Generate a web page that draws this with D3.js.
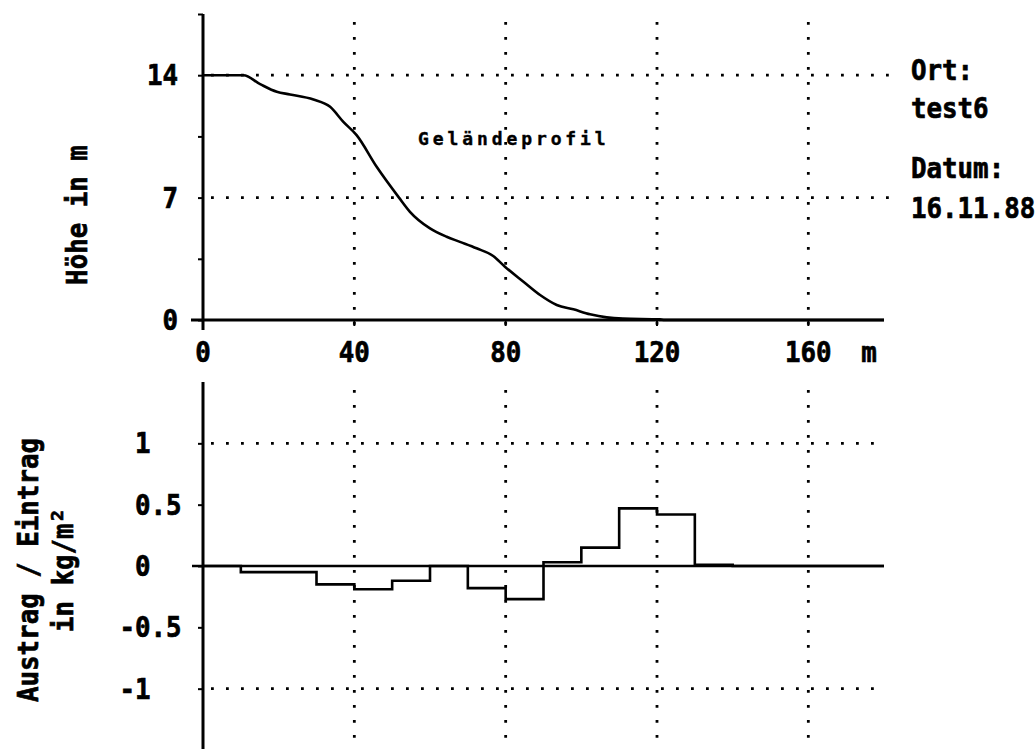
<!DOCTYPE html>
<html>
<head>
<meta charset="utf-8">
<script src="https://cdn.jsdelivr.net/npm/d3@7"></script>
<style>
  html, body { margin: 0; padding: 0; background: #fff; }
  svg { display: block; }
  .lbl { font-family: "DejaVu Sans Mono", "Liberation Mono", monospace; font-weight: bold; fill: #000; stroke: #000; stroke-width: 0.7; }
  .small { stroke-width: 0.4; }
</style>
</head>
<body>
<svg id="chart" width="1036" height="749"></svg>
<script>
// Terrain profile: distance (m) and height (m)
const profileX = [0, 7, 10.7, 15.1, 19.5, 23, 29.2, 33.6, 37.1, 40.6, 45.9, 51.8, 54.7, 60, 64.4, 67.9, 72.3, 76.7, 79.8, 84.7, 89.1, 93.5, 97.9, 102.3, 106.7, 111, 120.8, 122, 180];
const profileY = [14, 14, 14, 13.49, 13.05, 12.9, 12.61, 12.19, 11.33, 10.57, 8.76, 7.0, 6.19, 5.24, 4.76, 4.47, 4.1, 3.66, 3.05, 2.19, 1.43, 0.86, 0.61, 0.33, 0.15, 0.08, 0.04, 0, 0];

// Soil loss / deposition per 10 m segment (kg/m²)
const segStart = [0, 10, 20, 30, 40, 50, 60, 70, 80, 90, 100, 110, 120, 130, 140];
const segValue = [0, -0.05, -0.05, -0.15, -0.19, -0.12, 0, -0.18, -0.27, 0.03, 0.15, 0.47, 0.42, 0.01, 0];
const segEnd = 180;

// Axis ticks
const xTicks = [0, 40, 80, 120, 160];
const xGrid = [40, 80, 120, 160];
const hTicks = [0, 3.5, 7, 10.5, 14, 17.5];
const hLabels = [0, 7, 14];
const hGrid = [7, 14];
const aTicks = [-1, -0.5, 0, 0.5, 1];
const aLabels = ["-1", "-0.5", "0", "0.5", "1"];
const aGrid = [-1, 1];

const svg = d3.select("#chart");

const x = d3.scaleLinear().domain([0, 180]).range([203, 884]);
const yH = d3.scaleLinear().domain([0, 17.5]).range([320, 14]);
const yA = d3.scaleLinear().domain([-1.5, 1.5]).range([750, 382]);

const FS = 29;      // label font size
const SX = 0.89;    // horizontal squeeze for the narrow plotter glyphs

function label(parent, px, py, txt, anchor, rot) {
  const g = parent.append("g")
    .attr("transform", `translate(${px},${py})` + (rot ? ` rotate(${rot})` : "") + ` scale(${SX},1)`);
  g.append("text").attr("class", "lbl")
    .attr("font-size", FS)
    .attr("text-anchor", anchor || "start")
    .text(txt);
  return g;
}

const dotted = { "stroke": "#000", "stroke-width": 2.8, "stroke-dasharray": "2.8 12.2" };
function applyAttrs(sel, attrs) { Object.entries(attrs).forEach(([k, v]) => sel.attr(k, v)); return sel; }

// ---------- upper panel: terrain profile ----------
const gTop = svg.append("g");

hGrid.forEach(v => {
  applyAttrs(gTop.append("line")
    .attr("x1", x(0) + 8).attr("x2", 895)
    .attr("y1", yH(v)).attr("y2", yH(v)), dotted);
});
xGrid.forEach(v => {
  applyAttrs(gTop.append("line")
    .attr("x1", x(v)).attr("x2", x(v))
    .attr("y1", 22).attr("y2", 330), dotted);
});

// y axis with ticks every 3.5 m, labels at 0/7/14
const axH = d3.axisLeft(yH).tickValues(hTicks).tickSize(5).tickFormat("");
const gH = gTop.append("g").attr("transform", `translate(${x(0)},0)`).call(axH);
gH.select(".domain").remove();
gH.selectAll(".tick line").attr("stroke", "#000").attr("stroke-width", 2);
gTop.append("line").attr("x1", x(0)).attr("x2", x(0))
  .attr("y1", yH(17.5)).attr("y2", yH(0) + 10)
  .attr("stroke", "#000").attr("stroke-width", 3);
hLabels.forEach(d => label(gTop, 178, yH(d) + 10, String(d), "end"));

// x axis
gTop.append("line").attr("x1", 191).attr("x2", x(180))
  .attr("y1", yH(0)).attr("y2", yH(0))
  .attr("stroke", "#000").attr("stroke-width", 3);
gTop.selectAll(".xtick").data(xTicks).join("line")
  .attr("x1", d => x(d)).attr("x2", d => x(d))
  .attr("y1", yH(0)).attr("y2", yH(0) + 6)
  .attr("stroke", "#000").attr("stroke-width", 2);
xTicks.forEach(d => label(gTop, x(d), 362, String(d), "middle"));
label(gTop, 869, 362, "m", "middle");

// profile line
const profile = profileX.map((d, i) => [d, profileY[i]]);
gTop.append("path")
  .datum(profile)
  .attr("fill", "none").attr("stroke", "#000").attr("stroke-width", 2.6)
  .attr("stroke-linejoin", "round")
  .attr("d", d3.line().x(d => x(d[0])).y(d => yH(d[1])).curve(d3.curveMonotoneX));

gTop.append("text").attr("class", "lbl small")
  .attr("x", 418).attr("y", 145).attr("font-size", 18)
  .attr("letter-spacing", 3.9)
  .text("Geländeprofil");

// y title
label(gTop, 87, 215, "Höhe in m", "middle", -90);

// info block
[["Ort:", 80], ["test6", 118], ["Datum:", 178], ["16.11.88", 218]]
  .forEach(d => label(svg, 911, d[1], d[0], "start"));

// ---------- lower panel: soil loss / deposition ----------
const gBot = svg.append("g");

aGrid.forEach(v => {
  applyAttrs(gBot.append("line")
    .attr("x1", x(0) + 8).attr("x2", 884)
    .attr("y1", yA(v)).attr("y2", yA(v)), dotted);
});
xGrid.forEach(v => {
  applyAttrs(gBot.append("line")
    .attr("x1", x(v)).attr("x2", x(v))
    .attr("y1", 390).attr("y2", 749), dotted);
});

const axA = d3.axisLeft(yA).tickValues(aTicks).tickSize(5).tickFormat("");
const gA = gBot.append("g").attr("transform", `translate(${x(0)},0)`).call(axA);
gA.select(".domain").remove();
gA.selectAll(".tick line").attr("stroke", "#000").attr("stroke-width", 2);
gBot.append("line").attr("x1", x(0)).attr("x2", x(0))
  .attr("y1", yA(1.5)).attr("y2", 749)
  .attr("stroke", "#000").attr("stroke-width", 3);
aTicks.forEach((d, i) => label(gBot, d < 0 ? 119.5 : 135, yA(d) + 10, aLabels[i], "start"));

// zero line
gBot.append("line").attr("x1", 192).attr("x2", x(180))
  .attr("y1", yA(0)).attr("y2", yA(0))
  .attr("stroke", "#000").attr("stroke-width", 2.5);

// step outline of segment values
const steps = segStart.map((s, i) => [s, segValue[i]]);
steps.push([segEnd, segValue[segValue.length - 1]]);
gBot.append("path")
  .datum(steps)
  .attr("fill", "none").attr("stroke", "#000").attr("stroke-width", 2.6)
  .attr("d", d3.line().x(d => x(d[0])).y(d => yA(d[1])).curve(d3.curveStepAfter));

label(gBot, 38, 570, "Austrag / Eintrag", "middle", -90);
label(gBot, 73, 570, "in kg/m²", "middle", -90);
</script>
</body>
</html>
